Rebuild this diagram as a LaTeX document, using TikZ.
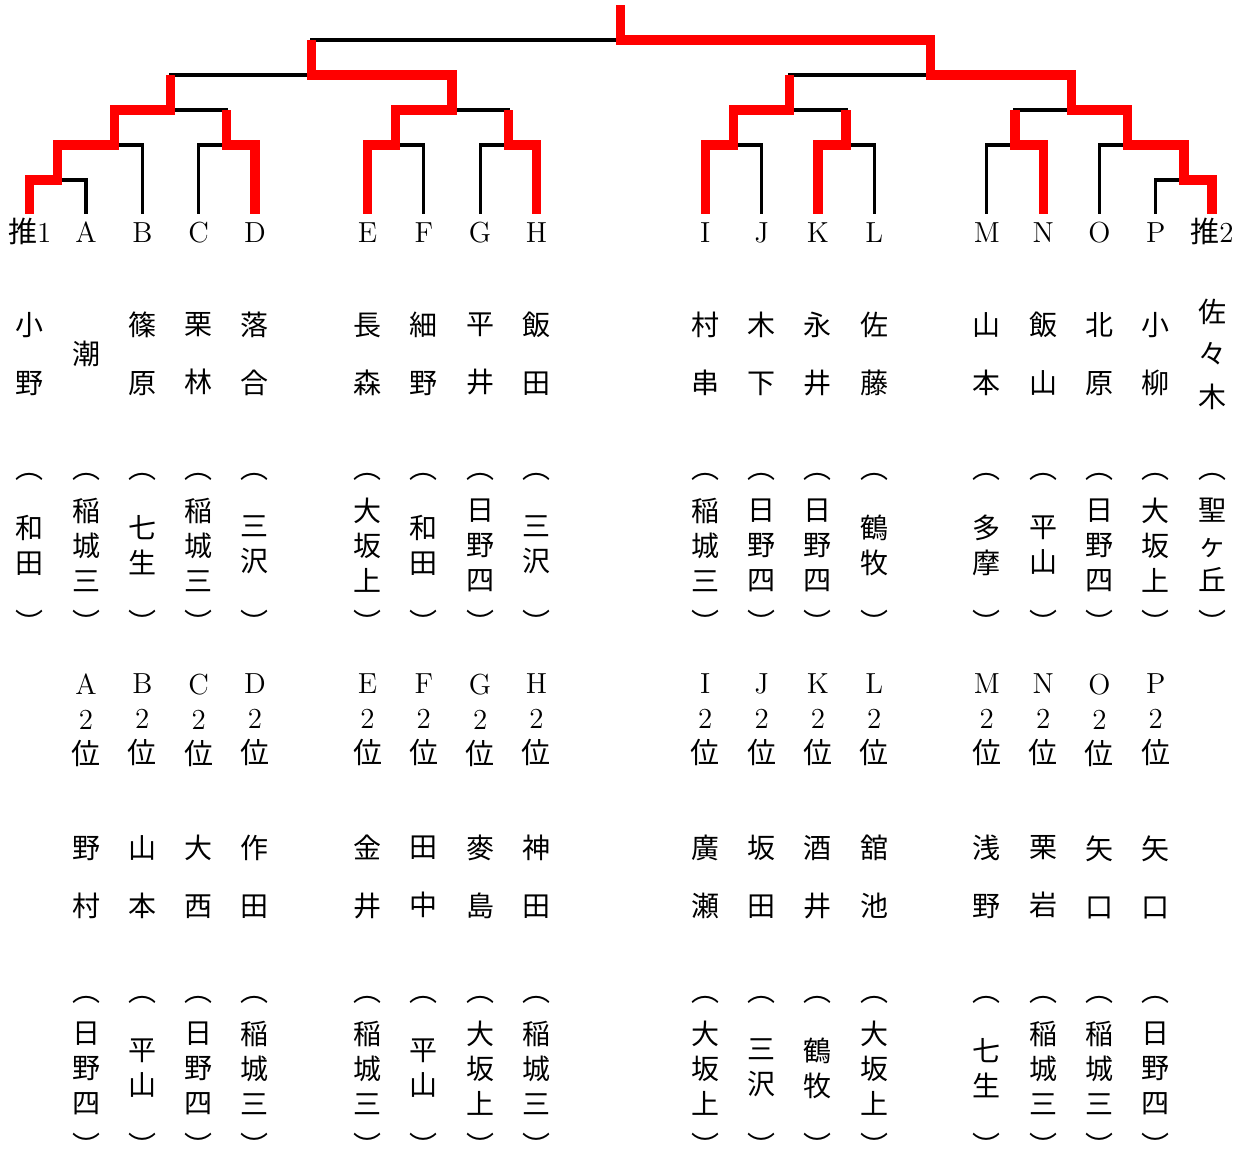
\documentclass[tikz,border=0pt]{standalone}
\usepackage{fontspec}
\newfontfamily\cjk{Noto Sans CJK JP}

\begin{document}
\begin{tikzpicture}[x=28.15pt, y=-0.5pt,
  br/.style  = {draw=black, line width=1.6pt},
  win/.style = {draw=red, line width=4.6pt},
  lbl/.style = {anchor=base, font=\fontsize{14.5}{17}\selectfont,
                text height=12pt, inner ysep=2pt, inner xsep=0pt},
  nm/.style  = {align=center, font=\cjk\fontsize{14}{29}\selectfont},
  sch/.style = {align=center, font=\cjk\fontsize{14}{17.5}\selectfont},
  par/.style = {font=\cjk\fontsize{14}{14}\selectfont, inner sep=0pt},
  rk/.style  = {align=center, font=\fontsize{14.5}{17.5}\selectfont},
  ]
  \useasboundingbox (-0.5275,0) rectangle (21.603,1148);

  \foreach \k/\id/\txt in {0/sui1/{{\cjk 推}1}, 1/A/A, 2/B/B, 3/C/C, 4/D/D,
      6/E/E, 7/F/F, 8/G/G, 9/H/H, 12/I/I, 13/J/J, 14/K/K, 15/L/L,
      17/M/M, 18/N/N, 19/O/O, 20/P/P, 21/sui2/{{\cjk 推}2}}
    \node[lbl] (\id) at (\k,242) {\txt};

  \coordinate (j1)  at (0.5,180);
  \coordinate (j2)  at (1.5,145);
  \coordinate (j3)  at (3.5,145);
  \coordinate (q1)  at (2.5,110);
  \coordinate (j4)  at (6.5,145);
  \coordinate (j5)  at (8.5,145);
  \coordinate (q2)  at (7.5,110);
  \coordinate (h1)  at (5,75);
  \coordinate (j6)  at (12.5,145);
  \coordinate (j7)  at (14.5,145);
  \coordinate (q3)  at (13.5,110);
  \coordinate (j8)  at (17.5,145);
  \coordinate (j9)  at (20.5,180);
  \coordinate (j10) at (19.5,145);
  \coordinate (q4)  at (18.5,110);
  \coordinate (h2)  at (16,75);
  \coordinate (fin) at (10.5,40);
  \coordinate (top) at (10.5,5);

  \draw[br] (sui1.north) |- (j1) -| (A.north);
  \draw[br] (j1) |- (j2) -| (B.north);
  \draw[br] (C.north) |- (j3) -| (D.north);
  \draw[br] (j2) |- (q1) -| (j3);
  \draw[br] (E.north) |- (j4) -| (F.north);
  \draw[br] (G.north) |- (j5) -| (H.north);
  \draw[br] (j4) |- (q2) -| (j5);
  \draw[br] (q1) |- (h1) -| (q2);
  \draw[br] (I.north) |- (j6) -| (J.north);
  \draw[br] (K.north) |- (j7) -| (L.north);
  \draw[br] (j6) |- (q3) -| (j7);
  \draw[br] (M.north) |- (j8) -| (N.north);
  \draw[br] (P.north) |- (j9) -| (sui2.north);
  \draw[br] (O.north) |- (j10) -| (j9);
  \draw[br] (j8) |- (q4) -| (j10);
  \draw[br] (q3) |- (h2) -| (q4);
  \draw[br] (h1) |- (fin) -| (h2);

  \draw[win] (sui1.north) |- (j1) |- (j2) |- (q1) -- (q1 |- h1);
  \draw[win] (D.north) |- (j3) -- (j3 |- q1);
  \draw[win] (E.north) |- (j4) |- (q2) |- (h1) -- (h1 |- fin);
  \draw[win] (H.north) |- (j5) -- (j5 |- q2);
  \draw[win] (I.north) |- (j6) |- (q3) -- (q3 |- h2);
  \draw[win] (K.north) |- (j7) -- (j7 |- q3);
  \draw[win] (N.north) |- (j8) -- (j8 |- q4);
  \draw[win] (sui2.north) |- (j9) |- (j10) |- (q4) |- (h2) |- (fin) -- (top);

  \foreach \k/\id/\who in {0/sui1/{小\\野}, 1/A/潮, 2/B/{篠\\原}, 3/C/{栗\\林},
      4/D/{落\\合}, 6/E/{長\\森}, 7/F/{細\\野}, 8/G/{平\\井}, 9/H/{飯\\田},
      12/I/{村\\串}, 13/J/{木\\下}, 14/K/{永\\井}, 15/L/{佐\\藤},
      17/M/{山\\本}, 18/N/{飯\\山}, 19/O/{北\\原}, 20/P/{小\\柳}}
    \node[nm] (\id-nm) at (\k,354) {\who};
  \node[nm, font=\cjk\fontsize{14}{21.25}\selectfont] (sui2-nm) at (21,354) {佐\\々\\木};

  \foreach \k/\id/\sch in {0/sui1/{和\\田}, 1/A/{稲\\城\\三}, 2/B/{七\\生},
      3/C/{稲\\城\\三}, 4/D/{三\\沢}, 6/E/{大\\坂\\上}, 7/F/{和\\田},
      8/G/{日\\野\\四}, 9/H/{三\\沢}, 12/I/{稲\\城\\三}, 13/J/{日\\野\\四},
      14/K/{日\\野\\四}, 15/L/{鶴\\牧}, 17/M/{多\\摩}, 18/N/{平\\山},
      19/O/{日\\野\\四}, 20/P/{大\\坂\\上}, 21/sui2/{聖\\ヶ\\丘}} {
    \node[sch] (\id-sch) at (\k,545) {\sch};
    \node[par] (\id-sch-o) at (\k,477) {︵};
    \node[par] (\id-sch-c) at (\k,622) {︶};
  }

  \foreach \k/\id/\who/\sch in {1/A/{野\\村}/{日\\野\\四}, 2/B/{山\\本}/{平\\山},
      3/C/{大\\西}/{日\\野\\四}, 4/D/{作\\田}/{稲\\城\\三},
      6/E/{金\\井}/{稲\\城\\三}, 7/F/{田\\中}/{平\\山},
      8/G/{麥\\島}/{大\\坂\\上}, 9/H/{神\\田}/{稲\\城\\三},
      12/I/{廣\\瀬}/{大\\坂\\上}, 13/J/{坂\\田}/{三\\沢},
      14/K/{酒\\井}/{鶴\\牧}, 15/L/{舘\\池}/{大\\坂\\上},
      17/M/{浅\\野}/{七\\生}, 18/N/{栗\\岩}/{稲\\城\\三},
      19/O/{矢\\口}/{稲\\城\\三}, 20/P/{矢\\口}/{日\\野\\四}} {
    \node[rk] (\id-rk) at (\k,720) {\id\\2\\{\cjk 位}};
    \node[nm] (\id-nm2) at (\k,877) {\who};
    \node[sch] (\id-sch2) at (\k,1068) {\sch};
    \node[par] (\id-sch2-o) at (\k,1000) {︵};
    \node[par] (\id-sch2-c) at (\k,1145) {︶};
  }
\end{tikzpicture}
\end{document}
